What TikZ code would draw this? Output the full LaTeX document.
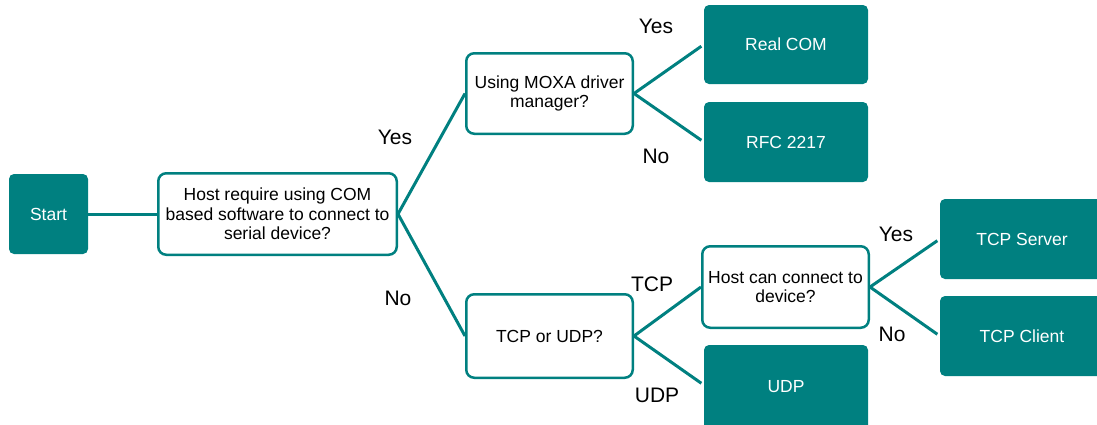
\documentclass[tikz,border=0pt]{standalone}
\usepackage{fontspec}
\setmainfont{Liberation Sans}
\definecolor{moxateal}{HTML}{008080}
\begin{document}
\begin{tikzpicture}[x=1pt,y=-1pt,
  qbox/.style={draw=moxateal, line width=2.5pt, rounded corners=8pt, fill=white, align=center,
    font=\fontsize{17.5}{19.5}\selectfont, inner sep=0pt},
  rbox/.style={fill=moxateal, rounded corners=5pt, text=white, align=center,
    font=\fontsize{17.5}{19.5}\selectfont, inner sep=0pt, minimum width=164pt, minimum height=80pt},
  conn/.style={draw=moxateal, line width=3pt},
  lbl/.style={font=\fontsize{21}{24}\selectfont, inner sep=0pt}]
\useasboundingbox (0,0) rectangle (1097,424);
\clip (0,0) rectangle (1097,424);

\node[rbox, minimum width=79pt] (start) at (48.5,214) {Start};
\node[qbox, minimum width=238.5pt, minimum height=81.5pt] (q1) at (277.5,214)
  {Host require using COM\\based software to connect to\\serial device?};
\node[qbox, minimum width=166.5pt, minimum height=80.5pt] (q2) at (549.5,93.5)
  {Using MOXA driver\\manager?};
\node[rbox, minimum height=79pt] (realcom) at (786,44.5) {Real COM};
\node[rbox] (rfc) at (786,142) {RFC 2217};
\node[qbox, minimum width=166.5pt, minimum height=83.5pt] (q3) at (549.5,336) {TCP or UDP?};
\node[qbox, minimum width=166.5pt, minimum height=81.5pt] (q4) at (785.5,287)
  {Host can connect to\\device?};
\node[rbox, minimum height=90pt] (udp) at (786,390) {\raisebox{7pt}{UDP}};
\node[rbox] (tcpserver) at (1022,239) {TCP Server};
\node[rbox] (tcpclient) at (1022,336) {TCP Client};

\draw[conn] (start.east) -- (q1.west);
\draw[conn] (q1.east) -- (q2.west);
\draw[conn] (q1.east) -- (q3.west);
\draw[conn, shorten >=3pt] (q2.east) -- (realcom.west);
\draw[conn, shorten >=3pt] (q2.east) -- (rfc.west);
\draw[conn] (q3.east) -- (q4.west);
\draw[conn, shorten >=3pt] (q3.east) -- ([yshift=5pt]udp.west);
\draw[conn, shorten >=3pt] (q4.east) -- (tcpserver.west);
\draw[conn, shorten >=3pt] (q4.east) -- (tcpclient.west);

\node[lbl] (l1) at (395,137) {Yes};
\node[lbl] (l2) at (398,298) {No};
\node[lbl] (l3) at (656,26) {Yes};
\node[lbl] (l4) at (656,156) {No};
\node[lbl] (l5) at (652,284) {TCP};
\node[lbl] (l6) at (657,395) {UDP};
\node[lbl] (l7) at (896,234) {Yes};
\node[lbl] (l8) at (892,334) {No};
\end{tikzpicture}
\end{document}
